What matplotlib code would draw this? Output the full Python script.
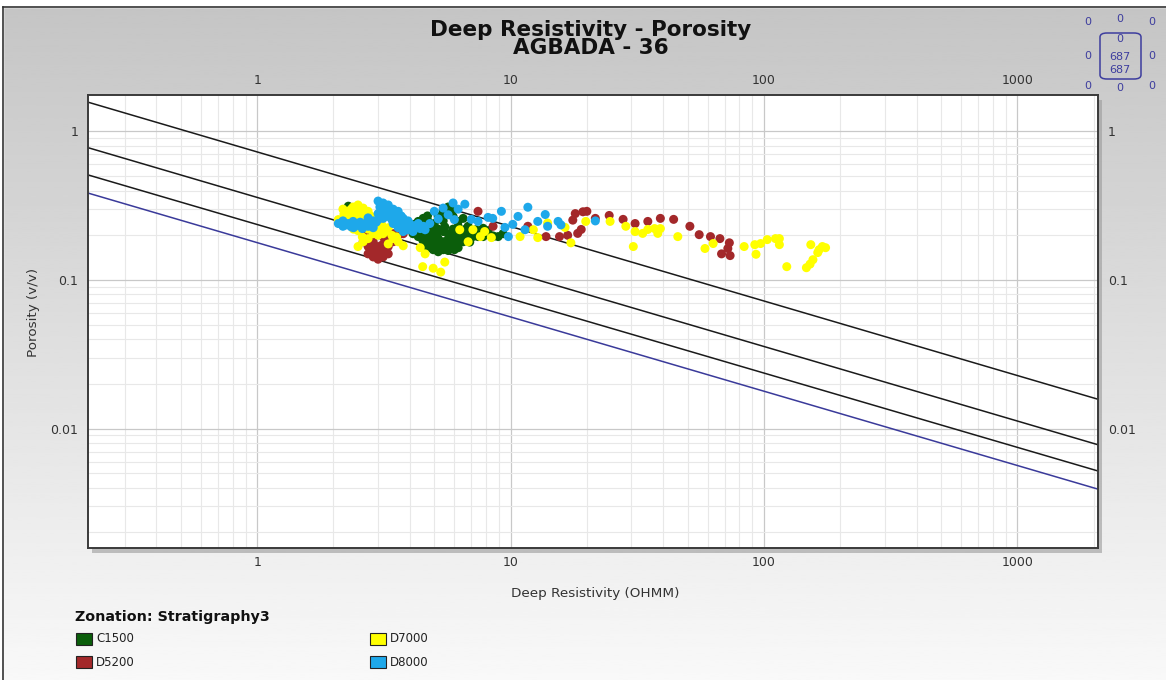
"""
Deep resistivity vs porosity crossplot, AGBADA - 36
"""

import numpy as np
import matplotlib
matplotlib.use('Agg')
from matplotlib import pyplot as plt
from matplotlib.patches import Rectangle, FancyBboxPatch
from matplotlib.ticker import LogLocator, NullFormatter, FuncFormatter

# zones and colours
zones = ['C1500', 'D5200', 'D7000', 'D8000']
zone_colors = ['#0b5e0b', '#a3282a', '#ffff00', '#1ea8ea']

# C1500
c1500_rt = [4.12, 4.32, 4.52, 4.73, 4.95, 5.18, 5.42, 5.67, 5.93, 6.21, 6.50, 6.80,
            4.32, 4.52, 4.73, 4.95, 5.18, 5.42, 5.67, 5.93, 6.21, 6.50, 6.80, 7.11, 7.44,
            4.52, 4.73, 4.95, 5.18, 5.42, 5.67, 5.93, 6.21, 5.18, 5.42, 5.67, 5.93, 5.42,
            4.95, 4.73, 5.18, 5.67, 6.21, 4.32, 4.12, 3.94, 7.79, 8.15, 7.44, 7.79, 8.53,
            6.80, 6.21, 6.50, 2.29, 2.50, 2.62, 5.67, 5.93, 5.42, 7.44, 7.79, 8.53, 8.93,
            9.34, 6.3, 7.1, 4.6, 5.0,
            4.4, 4.6, 4.8, 5.0, 5.3, 5.5, 5.8, 6.0, 6.4, 6.6, 4.6, 4.9, 5.1, 5.6, 6.1,
            6.7, 7.0, 4.2, 4.5, 5.0, 5.5, 6.0, 6.9, 7.3, 4.7]
c1500_phi = [0.230, 0.212, 0.196, 0.181, 0.168, 0.168, 0.160, 0.163, 0.168, 0.175, 0.181, 0.190,
             0.248, 0.230, 0.212, 0.200, 0.190, 0.181, 0.188, 0.196, 0.200, 0.205, 0.212, 0.205, 0.212,
             0.260, 0.248, 0.230, 0.220, 0.212, 0.205, 0.220, 0.230, 0.268, 0.275, 0.280, 0.268, 0.250,
             0.160, 0.165, 0.155, 0.158, 0.165, 0.196, 0.205, 0.220, 0.220, 0.215, 0.196, 0.196, 0.196,
             0.230, 0.248, 0.260, 0.314, 0.300, 0.295, 0.310, 0.300, 0.295, 0.200, 0.223, 0.198, 0.196,
             0.205, 0.196, 0.196, 0.176, 0.176,
             0.222, 0.205, 0.190, 0.176, 0.172, 0.176, 0.180, 0.185, 0.195, 0.198, 0.240, 0.215,
             0.200, 0.170, 0.210, 0.222, 0.198, 0.238, 0.186, 0.240, 0.228, 0.160, 0.180, 0.218, 0.270]

# D5200
d5200_rt = [2.74, 2.87, 3.00, 3.14, 3.29, 3.44, 3.60, 2.87, 3.00, 3.14, 2.87, 3.00, 2.74,
            2.62, 3.29, 3.14, 3.00, 2.87, 3.44, 3.14, 3.29, 2.74, 3.60, 3.77, 2.62,
            7.44, 8.53, 11.7, 13.8, 15.6, 16.8, 18.4, 19.0,
            19.3, 20.0, 18.0, 17.6, 21.6, 24.5, 27.8, 31.0, 34.8, 39.0, 44.0, 51.0,
            55.5, 61.5, 67.0, 73.0, 72.0, 68.0, 73.5]
d5200_phi = [0.196, 0.181, 0.168, 0.175, 0.190, 0.205, 0.200, 0.160, 0.150, 0.143, 0.143, 0.138, 0.168,
             0.181, 0.168, 0.196, 0.212, 0.212, 0.181, 0.155, 0.150, 0.150, 0.215, 0.205, 0.205,
             0.290, 0.230, 0.230, 0.196, 0.196, 0.200, 0.206, 0.219,
             0.288, 0.290, 0.280, 0.253, 0.260, 0.272, 0.256, 0.240, 0.248, 0.260, 0.256, 0.230,
             0.202, 0.196, 0.190, 0.178, 0.163, 0.150, 0.146]

# D7000
d7000_rt = [2.18, 2.29, 2.39, 2.50, 2.62, 2.74, 2.29, 2.39, 2.50, 2.62, 2.74, 2.87, 3.00,
            3.14, 3.29, 2.62, 2.74, 2.87, 3.00, 3.14, 2.50, 2.39, 2.18, 2.09, 3.44, 3.60,
            2.62, 2.50, 3.29, 2.74, 3.77,
            4.4, 4.6, 4.5, 5.5, 5.3, 4.95,
            6.3, 7.1, 7.9, 8.4, 10.9, 12.3, 12.8, 14.0, 16.4, 17.3, 19.8, 24.7, 6.8, 7.6,
            28.5, 31.0, 33.2, 34.8, 37.0, 38.1, 39.0, 45.7, 30.5, 58.5, 63.0,
            83.5, 92.0, 93.0, 97.0, 103.0, 111.0, 115.0, 115.0, 123.0, 147.0, 152.0,
            156.0, 165.0, 170.0, 175.0, 153.0, 163.0,
            2.2, 2.35, 2.45, 2.55, 2.65, 2.8, 2.95, 3.1, 3.2, 2.3, 2.45, 2.6, 2.7, 2.85,
            3.05, 3.4, 3.55, 2.4, 2.6]
d7000_phi = [0.300, 0.290, 0.310, 0.320, 0.305, 0.290, 0.268, 0.255, 0.260, 0.270, 0.255, 0.240, 0.230,
             0.220, 0.225, 0.230, 0.220, 0.205, 0.200, 0.205, 0.215, 0.235, 0.240, 0.255, 0.190, 0.181,
             0.181, 0.168, 0.175, 0.190, 0.170,
             0.165, 0.150, 0.123, 0.132, 0.113, 0.120,
             0.218, 0.218, 0.212, 0.193, 0.196, 0.218, 0.193, 0.242, 0.226, 0.178, 0.248, 0.248, 0.181, 0.196,
             0.230, 0.212, 0.206, 0.219, 0.222, 0.206, 0.222, 0.196, 0.168, 0.163, 0.176,
             0.168, 0.173, 0.149, 0.176, 0.187, 0.190, 0.190, 0.173, 0.123, 0.121, 0.128,
             0.137, 0.160, 0.168, 0.165, 0.173, 0.153,
             0.278, 0.300, 0.285, 0.300, 0.280, 0.270, 0.250, 0.236, 0.212, 0.250, 0.245, 0.245,
             0.240, 0.228, 0.215, 0.200, 0.195, 0.220, 0.195]

# D8000
d8000_rt = [2.09, 2.18, 2.18, 2.29, 2.39, 2.50, 2.62, 2.74, 2.87,
            3.00, 3.14, 3.29, 3.14, 3.29, 3.44, 3.60, 3.44, 3.60, 3.77, 3.29, 3.00, 3.14,
            3.44, 3.60, 3.77, 3.94, 4.12, 3.94, 4.32, 4.12, 3.77, 4.52,
            5.00, 5.42, 5.93, 6.21, 5.67, 6.00, 5.18, 2.74, 2.87, 3.00,
            9.2, 11.7, 10.7, 13.7, 15.4, 8.15, 9.5, 9.8, 11.4, 14.0, 15.8, 7.0, 6.6,
            7.44, 8.5, 10.2, 12.8, 21.6,
            2.25, 2.35, 2.45, 2.55, 2.7, 2.8, 2.95, 3.05, 3.2, 3.35, 3.5, 3.7, 3.85, 4.0,
            4.2, 4.4, 3.1, 3.4, 3.65, 3.9, 2.4, 2.6, 4.6, 4.8, 3.25]
d8000_phi = [0.240, 0.230, 0.250, 0.240, 0.248, 0.240, 0.235, 0.230, 0.225,
             0.340, 0.330, 0.320, 0.300, 0.290, 0.300, 0.290, 0.268, 0.255, 0.260, 0.268, 0.280, 0.260,
             0.240, 0.225, 0.240, 0.230, 0.225, 0.250, 0.240, 0.212, 0.212, 0.230,
             0.290, 0.305, 0.330, 0.300, 0.275, 0.255, 0.258, 0.262, 0.250, 0.255,
             0.290, 0.309, 0.268, 0.276, 0.248, 0.264, 0.226, 0.196, 0.218, 0.230, 0.235, 0.256, 0.324,
             0.248, 0.260, 0.237, 0.248, 0.250,
             0.235, 0.228, 0.232, 0.245, 0.242, 0.238, 0.245, 0.310, 0.315, 0.285, 0.280, 0.270,
             0.248, 0.240, 0.232, 0.222, 0.290, 0.255, 0.245, 0.218, 0.225, 0.222, 0.218, 0.240, 0.300]

# Sw reference lines, read at the plot edges
line_rt = [0.215, 2080]
line_sw025 = [1.575, 0.01575]
line_sw050 = [0.778, 0.00778]
line_sw075 = [0.51, 0.00518]
line_sw100 = [0.385, 0.00391]

W, H = 1166, 680


def main():
    fig = plt.figure(figsize=(W / 100, H / 100), dpi=100)

    # grey to white gradient background
    bg = fig.add_axes([0, 0, 1, 1], zorder=-10)
    grad = np.linspace(0.77, 0.975, 256).reshape(-1, 1)
    bg.imshow(grad, aspect='auto', cmap='gray', vmin=0, vmax=1,
              extent=[0, 1, 0, 1], origin='upper')
    bg.fill_between([0, 1], 1 - 7 / H, 1, color='white')
    bg.fill_between([0, 3 / W], 0, 1, color='white')
    bg.plot([3 / W, 3 / W], [0, 1 - 7 / H], color='#333333', lw=1.2)
    bg.plot([3 / W, 1], [1 - 7 / H, 1 - 7 / H], color='#333333', lw=1.2)
    bg.set_xlim(0, 1)
    bg.set_ylim(0, 1)
    bg.axis('off')

    left, right, top, bottom = 88, 1098, 95, 548
    pos = [left / W, 1 - bottom / H, (right - left) / W, (bottom - top) / H]

    # drop shadow behind the plot area
    bg.add_patch(Rectangle((pos[0] + 4 / W, pos[1] - 5 / H), pos[2], pos[3],
                           facecolor='#9a9a9a', edgecolor='none', alpha=0.6))

    ax = fig.add_axes(pos)
    ax.set_facecolor('white')
    ax.set_xscale('log')
    ax.set_yscale('log')
    ax.set_xlim(0.215, 2080)
    ax.set_ylim(0.00157, 1.76)

    fmt = FuncFormatter(lambda v, _: '{:g}'.format(v))
    for axis in (ax.xaxis, ax.yaxis):
        axis.set_major_locator(LogLocator(base=10))
        axis.set_minor_locator(LogLocator(base=10, subs=np.arange(2, 10)))
        axis.set_major_formatter(fmt)
        axis.set_minor_formatter(NullFormatter())

    ax.grid(True, which='major', color='#c8c8c8', lw=0.9)
    ax.grid(True, which='minor', color='#e8e8e8', lw=0.8)
    ax.set_axisbelow(True)
    ax.tick_params(which='both', length=0, labelsize=9, labelcolor='#333333')
    ax.tick_params(axis='x', labeltop=True, pad=6)
    ax.tick_params(axis='y', labelright=True, pad=7)
    for s in ax.spines.values():
        s.set_color('#3a3a3a')
        s.set_linewidth(1.4)

    # saturation lines
    for phi in (line_sw025, line_sw050, line_sw075):
        ax.plot(line_rt, phi, color='#1a1a1a', lw=1.1, zorder=2)
    ax.plot(line_rt, line_sw100, color='#3a3a9a', lw=1.1, zorder=2)

    data = [(c1500_rt, c1500_phi), (d5200_rt, d5200_phi),
            (d7000_rt, d7000_phi), (d8000_rt, d8000_phi)]
    for (rt, phi), col in zip(data, zone_colors):
        ax.scatter(rt, phi, s=42, color=col, edgecolors='none', zorder=3)

    # titles and axis labels
    fig.text(591 / W, 1 - 30 / H, 'Deep Resistivity - Porosity', ha='center',
             va='center', fontsize=15.5, fontweight='bold', color='#111111')
    fig.text(591 / W, 1 - 48 / H, 'AGBADA - 36', ha='center', va='center',
             fontsize=15.5, fontweight='bold', color='#111111')
    fig.text(595 / W, 1 - 594 / H, 'Deep Resistivity (OHMM)', ha='center',
             va='center', fontsize=9.7, color='#333333')
    fig.text(33 / W, 1 - 312 / H, 'Porosity (v/v)', ha='center', va='center',
             rotation=90, fontsize=9.7, color='#333333')

    # counts widget top right
    blue = '#3d3d9e'
    counts = [(1120, 19, '0'), (1088, 22, '0'), (1152, 22, '0'),
              (1088, 56, '0'), (1152, 56, '0'),
              (1088, 86, '0'), (1152, 86, '0'), (1120, 88, '0'),
              (1120, 39, '0'), (1120, 57, '687'), (1120, 70, '687')]
    for x, y, t in counts:
        fig.text(x / W, 1 - y / H, t, ha='center', va='center',
                 fontsize=8, color=blue)
    box = FancyBboxPatch((1100 / W, 1 - 79 / H), 41 / W, 46 / H,
                         boxstyle='round,pad=0,rounding_size=0.006',
                         transform=fig.transFigure, facecolor='none',
                         edgecolor=blue, lw=1.1)
    fig.patches.append(box)

    # zonation legend
    fig.text(75 / W, 1 - 617 / H, 'Zonation: Stratigraphy3', ha='left',
             va='center', fontsize=10.3, fontweight='bold', color='#111111')
    spots = [(76, 639), (76, 662), (370, 639), (370, 662)]
    for i, (x, y) in enumerate(spots):
        fig.patches.append(Rectangle((x / W, 1 - (y + 6) / H), 16 / W, 12 / H,
                                     transform=fig.transFigure,
                                     facecolor=zone_colors[i],
                                     edgecolor='#222222', lw=0.8))
        fig.text((x + 20) / W, 1 - y / H, zones[i], ha='left', va='center',
                 fontsize=8.5, color='#222222')

    fig.savefig('out.png', dpi=100)


if __name__ == '__main__':
    main()
